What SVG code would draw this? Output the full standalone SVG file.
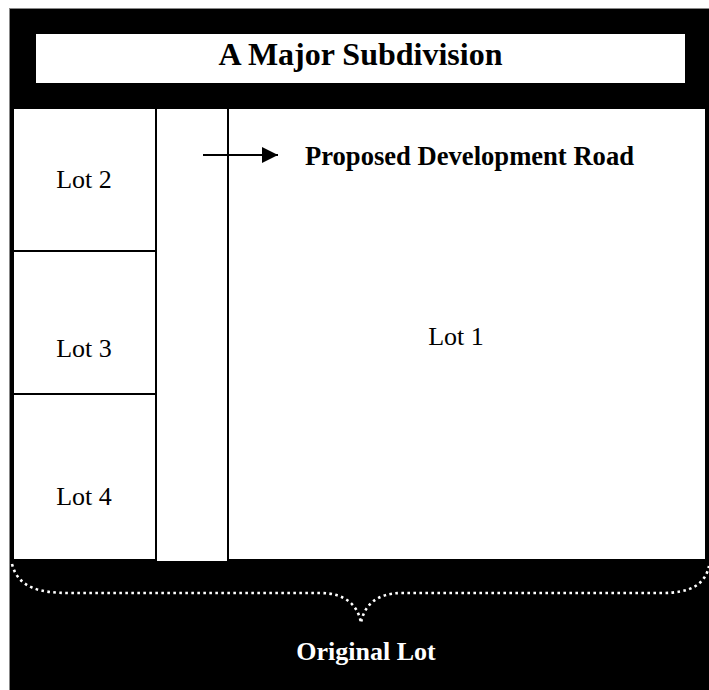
<svg xmlns="http://www.w3.org/2000/svg" width="709" height="690" viewBox="0 0 709 690">
  <style>
    .lot { fill: #ffffff; stroke: #000000; stroke-width: 2; }
    .lbl { font-family: "Liberation Serif", "Times New Roman", serif; font-size: 26px; fill: #000000; text-anchor: middle; }
    .bold { font-weight: bold; }
    .conn { stroke: #000000; stroke-width: 2.2; fill: none; }
    .brace { stroke: #ffffff; stroke-width: 2.6; fill: none; stroke-dasharray: 2.6 3.4; }
  </style>
  <defs>
    <marker id="arrow" markerUnits="userSpaceOnUse" markerWidth="17" markerHeight="17" refX="16" refY="8" orient="auto">
      <path d="M0,0 L16,8 L0,16 z" fill="#000000"/>
    </marker>
  </defs>

  <rect id="frame" x="9.5" y="8.5" width="700" height="682" fill="#000000" stroke="#888888" stroke-width="1"/>

  <g id="title">
    <rect x="36" y="34" width="649" height="49" fill="#ffffff"/>
    <text class="lbl bold" x="360.5" y="65" style="font-size:32px">A Major Subdivision</text>
  </g>

  <g id="lot1">
    <rect class="lot" x="228" y="108" width="478" height="452"/>
    <text class="lbl" x="456" y="345">Lot 1</text>
  </g>
  <g id="road">
    <rect class="lot" x="156" y="108" width="72" height="454"/>
  </g>
  <g id="lot2">
    <rect class="lot" x="13" y="108" width="143" height="143"/>
    <text class="lbl" x="84" y="188">Lot 2</text>
  </g>
  <g id="lot3">
    <rect class="lot" x="13" y="251" width="143" height="143"/>
    <text class="lbl" x="84" y="357">Lot 3</text>
  </g>
  <g id="lot4">
    <rect class="lot" x="13" y="394" width="143" height="166"/>
    <text class="lbl" x="84" y="505">Lot 4</text>
  </g>

  <g id="road-label">
    <text class="lbl bold" x="305" y="165" style="text-anchor:start;font-size:26.6px">Proposed Development Road</text>
  </g>

  <g id="connectors">
    <line class="conn" x1="203" y1="155" x2="278" y2="155" marker-end="url(#arrow)"/>
  </g>

  <g id="original-lot">
    <path class="brace" d="M12,564 C18,588 40,593 70,593 L320,593 C345,593 358,605 361,623 C364,605 377,593 402,593 L662,593 C690,593 705,585 709,566"/>
    <text class="lbl bold" x="366" y="660" style="fill:#ffffff">Original Lot</text>
  </g>
</svg>
